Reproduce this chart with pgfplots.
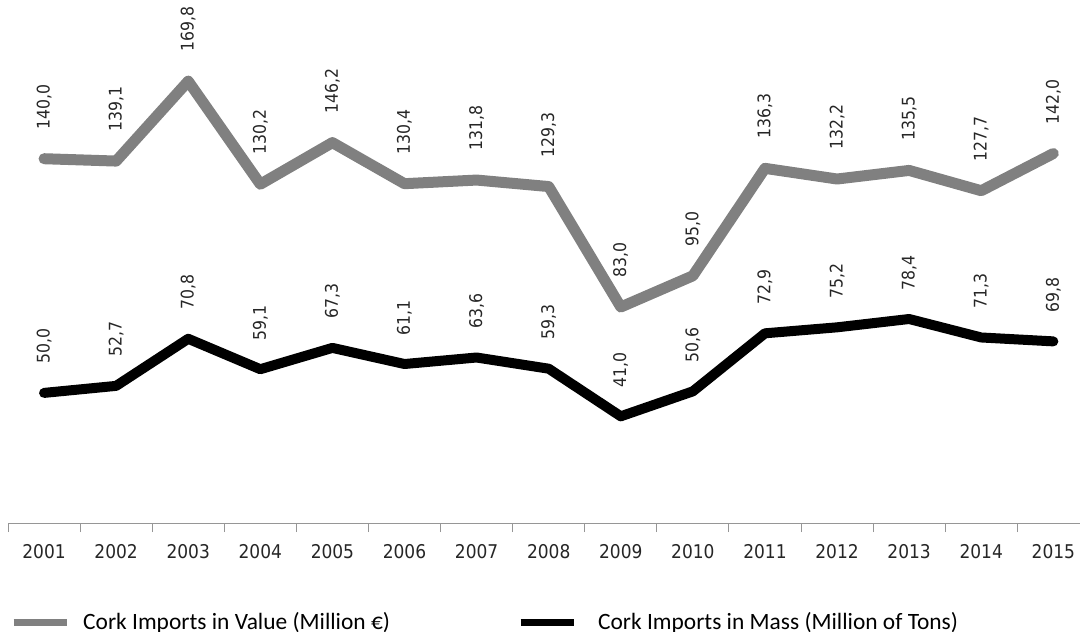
\documentclass[border=0pt]{standalone}
\usepackage{pgfplots}
\pgfplotsset{compat=1.18}
\usepackage{fontspec}
\setmainfont{DejaVu Sans}
\newfontfamily\cond{DejaVu Sans Condensed}
\newfontfamily\carlito{Carlito}
\definecolor{valgray}{RGB}{128,128,128}
\definecolor{axgray}{RGB}{150,150,150}
\begin{document}
\begin{tikzpicture}
\begin{axis}[name=ax,
  scale only axis, width=1072bp, height=523bp,
  xmin=0.5, xmax=15.37, ymin=0, ymax=201,
  axis y line=none, axis x line*=bottom,
  x axis line style={axgray, line width=1bp},
  xtick={1,...,15},
  xticklabels={2001,2002,2003,2004,2005,2006,2007,2008,2009,2010,2011,2012,2013,2014,2015},
  major tick length=0pt,
  extra x ticks={0.5,1.5,...,14.5},
  extra x tick labels={},
  extra x tick style={major tick length=9bp, tick align=outside, tick style={axgray, line width=1bp}},
  xticklabel style={font=\cond\fontsize{19}{22}\selectfont, color=black!85, anchor=base, yshift=-35bp},
  clip=false,
  nodes near coords={\pgfmathprintnumber[assume math mode=true,use comma,fixed,fixed zerofill,precision=1]{\pgfplotspointmeta}},
  every node near coord/.append style={font=\cond\fontsize{17.5}{20}\selectfont, color=black!85, rotate=90, anchor=west, inner sep=0pt, xshift=24bp},
  legend columns=2,
  legend style={draw=none, fill=none, at={(0,0)}, anchor=west, xshift=2bp, yshift=-99bp, inner sep=0pt,
    nodes={inner sep=0pt},
    font=\carlito\fontsize{23.5}{28}\selectfont,
    /tikz/column 1/.append style={column sep=13bp},
    /tikz/column 2/.append style={column sep=127bp},
    /tikz/column 3/.append style={column sep=21bp}},
  legend image code/.code={\draw[#1, line width=7bp, line cap=butt] (0bp,0bp) -- (53bp,0bp);},
]
\addplot[valgray, line width=11bp, line cap=round, line join=round] coordinates {
(1,140.0) (2,139.1) (3,169.8) (4,130.2) (5,146.2) (6,130.4) (7,131.8) (8,129.3)
(9,83.0) (10,95.0) (11,136.3) (12,132.2) (13,135.5) (14,127.7) (15,142.0)};
\addlegendentry{Cork Imports in Value (Million €)}
\addplot[black, line width=10bp, line cap=round, line join=round] coordinates {
(1,50.0) (2,52.7) (3,70.8) (4,59.1) (5,67.3) (6,61.1) (7,63.6) (8,59.3)
(9,41.0) (10,50.6) (11,72.9) (12,75.2) (13,78.4) (14,71.3) (15,69.8)};
\addlegendentry{Cork Imports in Mass (Million of Tons)}
\end{axis}
\pgfresetboundingbox
\path (ax.south west) ++(-8bp,-109bp) rectangle ++(1080bp,632bp);
\end{tikzpicture}
\end{document}
